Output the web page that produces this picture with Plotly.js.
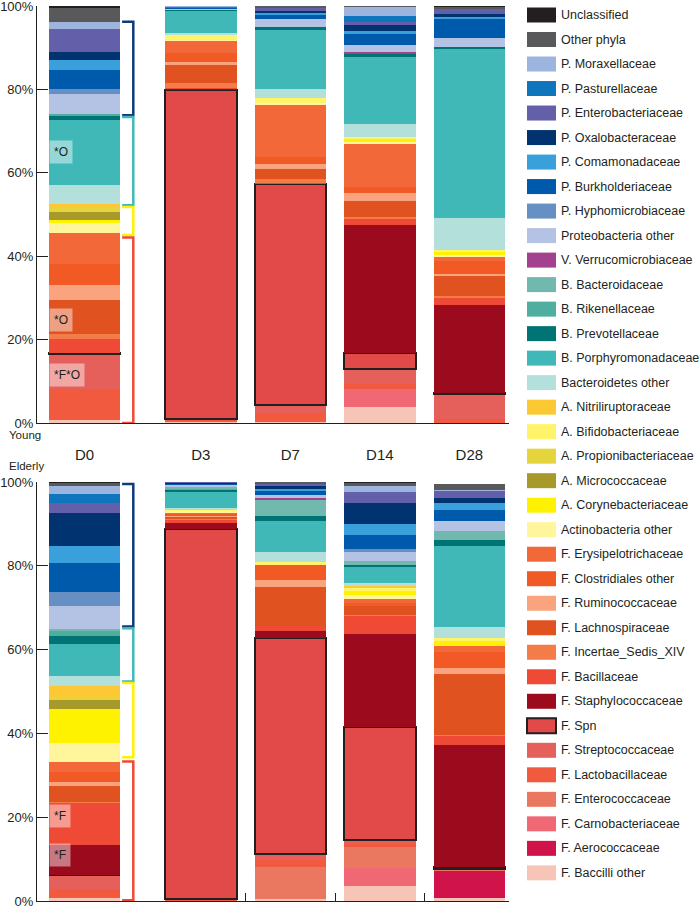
<!DOCTYPE html>
<html>
<head>
<meta charset="utf-8">
<script src="https://cdn.plot.ly/plotly-3.0.1.min.js"></script>
<style>
  body { margin: 0; background: #fff; }
  #chart { width: 700px; height: 910px; }
</style>
</head>
<body>
<div id="chart"></div>
<script>
// taxa in stacking order, bottom to top
var taxa = [
    'F. Baccilli other', 'F. Aerococcaceae', 'F. Carnobacteriaceae', 'F. Enterococcaceae',
    'F. Lactobacillaceae', 'F. Streptococcaceae', 'F. Spn', 'F. Staphylococcaceae',
    'F. Bacillaceae', 'F. Incertae_Sedis_XIV', 'F. Lachnospiraceae', 'F. Ruminococcaceae',
    'F. Clostridiales other', 'F. Erysipelotrichaceae', 'Actinobacteria other', 'A. Corynebacteriaceae',
    'A. Micrococcaceae', 'A. Propionibacteriaceae', 'A. Bifidobacteriaceae', 'A. Nitriliruptoraceae',
    'Bacteroidetes other', 'B. Porphyromonadaceae', 'B. Prevotellaceae', 'B. Rikenellaceae',
    'B. Bacteroidaceae', 'V. Verrucomicrobiaceae', 'Proteobacteria other', 'P. Hyphomicrobiaceae',
    'P. Burkholderiaceae', 'P. Comamonadaceae', 'P. Oxalobacteraceae', 'P. Enterobacteriaceae',
    'P. Pasturellaceae', 'P. Moraxellaceae', 'Other phyla', 'Unclassified'
];

var colors = [
    '#f7c5b7', '#d0134b', '#f06873', '#ea7860',
    '#f15a3e', '#e5605a', '#e24a4a', '#9b0a1d',
    '#ef4a36', '#f47c48', '#e0521f', '#f9a47e',
    '#f15a24', '#f26838', '#fff59a', '#fff200',
    '#a89a2a', '#e6d43c', '#fff36a', '#fcc935',
    '#b4e0db', '#40b8b8', '#007475', '#4fae9f',
    '#71b8ae', '#a3418e', '#b4c3e4', '#6690c3',
    '#005aab', '#39a0dc', '#003370', '#635fa8',
    '#0f75bc', '#9db4de', '#58595b', '#231f20'
];

var days = ['D0', 'D3', 'D7', 'D14', 'D28'];
var xPos = [0, 1.3, 2.3, 3.3, 4.3];
var yTicks = [0, 20, 40, 60, 80, 100];
var yTickText = ['0%', '20%', '40%', '60%', '80%', '100%'];

// relative abundance (%), one value per taxon in stacking order
var youngD0 = [0.7, 0, 0, 0, 7.4, 8.4, 0.2, 0, 3.4, 1.2, 8.2, 3.7, 5.0, 7.4, 2.4, 0.8, 1.8, 1.0, 0, 1.0,
    4.4, 15.6, 1.0, 0.6, 0, 0, 4.8, 1.0, 4.6, 2.5, 1.8, 5.5, 0, 1.8, 3.4, 0.6];
var youngD3 = [0.3, 0, 0, 0, 0.4, 0.3, 78.8, 0.2, 0.3, 1.2, 4.4, 0.6, 2.2, 2.8, 0.4, 0, 0, 0, 1.2, 0,
    0.4, 5.4, 0.2, 0, 0, 0, 0.3, 0, 0.2, 0, 0, 0.2, 0, 0.2, 0.2, 0];
var youngD7 = [0.3, 0, 0, 0, 2.2, 1.8, 52.9, 0, 0.4, 1.0, 2.4, 1.2, 1.6, 12.4, 0.6, 0, 0, 0, 1.2, 0,
    2.0, 14.2, 0.8, 0, 0, 0, 1.8, 0, 1.0, 0.5, 0.6, 0.6, 0, 0, 0.5, 0.2];
var youngD14 = [3.8, 0, 4.4, 0, 1.2, 3.6, 3.8, 30.6, 1.6, 0.5, 3.7, 2.0, 1.4, 10.2, 0.6, 0.6, 0, 0, 0.6, 0,
    3.2, 16.0, 0.8, 0, 0, 0.4, 1.6, 0, 2.8, 0.6, 1.4, 0.8, 1.4, 2.1, 0.4, 0];
var youngD28 = [0, 0, 0, 0, 1.0, 6.0, 0.2, 21.2, 1.6, 0.4, 4.8, 0.6, 3.0, 1.0, 0.6, 0.6, 0, 0, 0.6, 0,
    7.6, 40.4, 0.6, 0, 0, 0, 2.2, 0, 4.4, 0.6, 0.7, 1.3, 0, 0, 0.4, 0.3];

var elderlyD0 = [0.8, 0, 0, 0, 2.0, 3.5, 0, 7.0, 10.2, 0.2, 3.8, 0.8, 2.4, 2.5, 4.5, 8.2, 2.0, 0.8, 0, 2.6,
    2.5, 7.5, 2.0, 1.2, 0.4, 0, 5.5, 3.3, 7.0, 4.1, 7.7, 2.4, 2.3, 1.8, 0.8, 0.3];
var elderlyD3 = [0, 0, 0, 0, 0.3, 0.2, 88.4, 1.2, 0.8, 0.3, 0.5, 0.3, 0.3, 0.3, 0.4, 0, 0, 0, 0.4, 0,
    0.4, 3.9, 0.4, 0.3, 0.3, 0, 0.5, 0, 0.4, 0, 0.2, 0.2, 0, 0, 0.2, 0];
var elderlyD7 = [0.4, 0, 0, 7.7, 1.6, 1.5, 51.6, 1.6, 1.3, 0, 9.2, 1.7, 3.5, 0, 0, 0, 0, 0, 0.9, 0,
    2.4, 7.2, 1.2, 0, 3.8, 0.5, 0.8, 0, 1.0, 0.5, 0.6, 0.6, 0, 0, 0.5, 0];
var elderlyD14 = [3.5, 0, 4.3, 5.1, 0.8, 0.9, 27.0, 22.1, 4.3, 0.3, 2.0, 0, 0.8, 1.0, 1.0, 1.0, 0, 0, 0.5, 0.6,
    0.8, 3.8, 0.3, 0, 1.0, 0, 2.1, 0.8, 3.4, 2.5, 5.1, 2.5, 0, 1.6, 0.6, 0.5];
var elderlyD28 = [0.6, 6.5, 0, 0.5, 0, 0, 0.4, 29.2, 2.2, 0.3, 14.5, 1.4, 3.9, 1.3, 0, 1.2, 0, 0, 0.8, 0,
    2.7, 19.2, 1.4, 0, 2.1, 0, 2.6, 0, 2.4, 1.8, 1.3, 1.5, 0, 0.4, 1.3, 0];

var youngData = [youngD0, youngD3, youngD7, youngD14, youngD28];
var elderlyData = [elderlyD0, elderlyD3, elderlyD7, elderlyD14, elderlyD28];

// phylum brackets next to D0: [top, bottom, colour]
var youngBrackets = [[96.2, 73.8, '#0e3a7e'], [73.4, 52.2, '#40b8b8'], [51.8, 45.1, '#fff200'], [44.5, 0, '#ef4a36']];
var elderlyBrackets = [[99.5, 65.5, '#0e3a7e'], [65.1, 52.4, '#40b8b8'], [52.0, 34.3, '#fff200'], [33.3, 0.2, '#ef4a36']];

// significance marks on D0
var youngMarks = [['*O', 65], ['*O', 24.6], ['*F*O', 11.4]];
var elderlyMarks = [['*F', 20.4], ['*F', 11]];

var ink = '#231f20';
var W = 700, H = 910;

var data = [];
taxa.forEach(function (name, i) {
    var isSpn = name === 'F. Spn';
    var line = isSpn ? {color: ink, width: 2} : {width: 0};
    data.push({
        type: 'bar', name: name, x: xPos,
        y: youngData.map(function (d) { return d[i]; }),
        width: 0.8, marker: {color: colors[i], line: line},
        xaxis: 'x', yaxis: 'y', showlegend: false
    });
    data.push({
        type: 'bar', name: name, x: xPos,
        y: elderlyData.map(function (d) { return d[i]; }),
        width: 0.8, marker: {color: colors[i], line: line},
        xaxis: 'x2', yaxis: 'y2', showlegend: false
    });
});

var shapes = [];
var annotations = [];

function addBrackets(list, xr, yr) {
    list.forEach(function (b) {
        shapes.push({
            type: 'path', xref: xr, yref: yr,
            path: 'M0.42,' + b[0] + ' L0.545,' + b[0] + ' L0.545,' + b[1] + ' L0.42,' + b[1],
            line: {color: b[2], width: 2.5}
        });
    });
}
addBrackets(youngBrackets, 'x', 'y');
addBrackets(elderlyBrackets, 'x2', 'y2');

function addMarks(list, xr, yr) {
    list.forEach(function (m) {
        annotations.push({
            xref: xr, yref: yr, x: -0.4, y: m[1], xanchor: 'left', yanchor: 'middle',
            text: m[0], showarrow: false, bgcolor: 'rgba(255,255,255,0.45)', borderpad: 4,
            font: {size: 12, color: ink}
        });
    });
}
addMarks(youngMarks, 'x', 'y');
addMarks(elderlyMarks, 'x2', 'y2');

annotations.push({xref: 'paper', yref: 'paper', x: 7 / W, y: 1 - 435 / H, xanchor: 'left', yanchor: 'middle',
    text: 'Young', showarrow: false, font: {size: 11.5, color: ink}});
annotations.push({xref: 'paper', yref: 'paper', x: 7 / W, y: 1 - 466 / H, xanchor: 'left', yanchor: 'middle',
    text: 'Elderly', showarrow: false, font: {size: 11.5, color: ink}});

// legend drawn by hand so the swatches match the original size
for (var k = 0; k < taxa.length; k++) {
    var i = taxa.length - 1 - k;
    var cy = 15 + 24.51 * k;
    shapes.push({
        type: 'rect', xref: 'paper', yref: 'paper',
        x0: 527 / W, x1: 556 / W, y0: 1 - (cy + 7.5) / H, y1: 1 - (cy - 7.5) / H,
        fillcolor: colors[i],
        line: taxa[i] === 'F. Spn' ? {color: ink, width: 2} : {width: 0}
    });
    annotations.push({
        xref: 'paper', yref: 'paper', x: 559 / W, y: 1 - cy / H, xanchor: 'left', yanchor: 'middle',
        text: taxa[i], showarrow: false, font: {size: 12.5, color: ink}
    });
}

var yAxisBase = {
    range: [0, 100], tickmode: 'array', tickvals: yTicks, ticktext: yTickText,
    ticks: 'inside', ticklen: 11, tickcolor: ink, tickwidth: 1,
    ticklabeloverflow: 'allow',
    showline: true, linecolor: ink, linewidth: 1,
    showgrid: false, zeroline: false, fixedrange: true,
    tickfont: {size: 13, color: ink}
};

var layout = {
    width: W, height: H,
    margin: {l: 0, r: 0, t: 0, b: 0},
    paper_bgcolor: '#ffffff', plot_bgcolor: '#ffffff',
    font: {family: 'Liberation Sans, Arial, sans-serif', color: ink},
    barmode: 'stack',
    showlegend: false,
    xaxis: {
        domain: [37 / W, 509 / W], range: [-0.531, 4.743], anchor: 'y',
        tickvals: xPos, ticktext: days, ticks: '', ticklabelstandoff: 18,
        showline: true, linecolor: ink, linewidth: 1,
        showgrid: false, zeroline: false, tickfont: {size: 15, color: ink}
    },
    yaxis: Object.assign({domain: [1 - 423 / H, 1 - 6 / H], anchor: 'x'}, yAxisBase),
    xaxis2: {
        domain: [37 / W, 509 / W], range: [-0.531, 4.743], anchor: 'y2',
        tickvals: [1.8, 2.8, 3.8, 4.74], showticklabels: false,
        ticks: 'inside', ticklen: 8, tickcolor: ink,
        showline: true, linecolor: ink, linewidth: 1,
        showgrid: false, zeroline: false
    },
    yaxis2: Object.assign({domain: [1 - 901 / H, 1 - 482 / H], anchor: 'x2'}, yAxisBase),
    shapes: shapes,
    annotations: annotations
};

Plotly.newPlot('chart', data, layout, {displayModeBar: false, staticPlot: true});
</script>
</body>
</html>
